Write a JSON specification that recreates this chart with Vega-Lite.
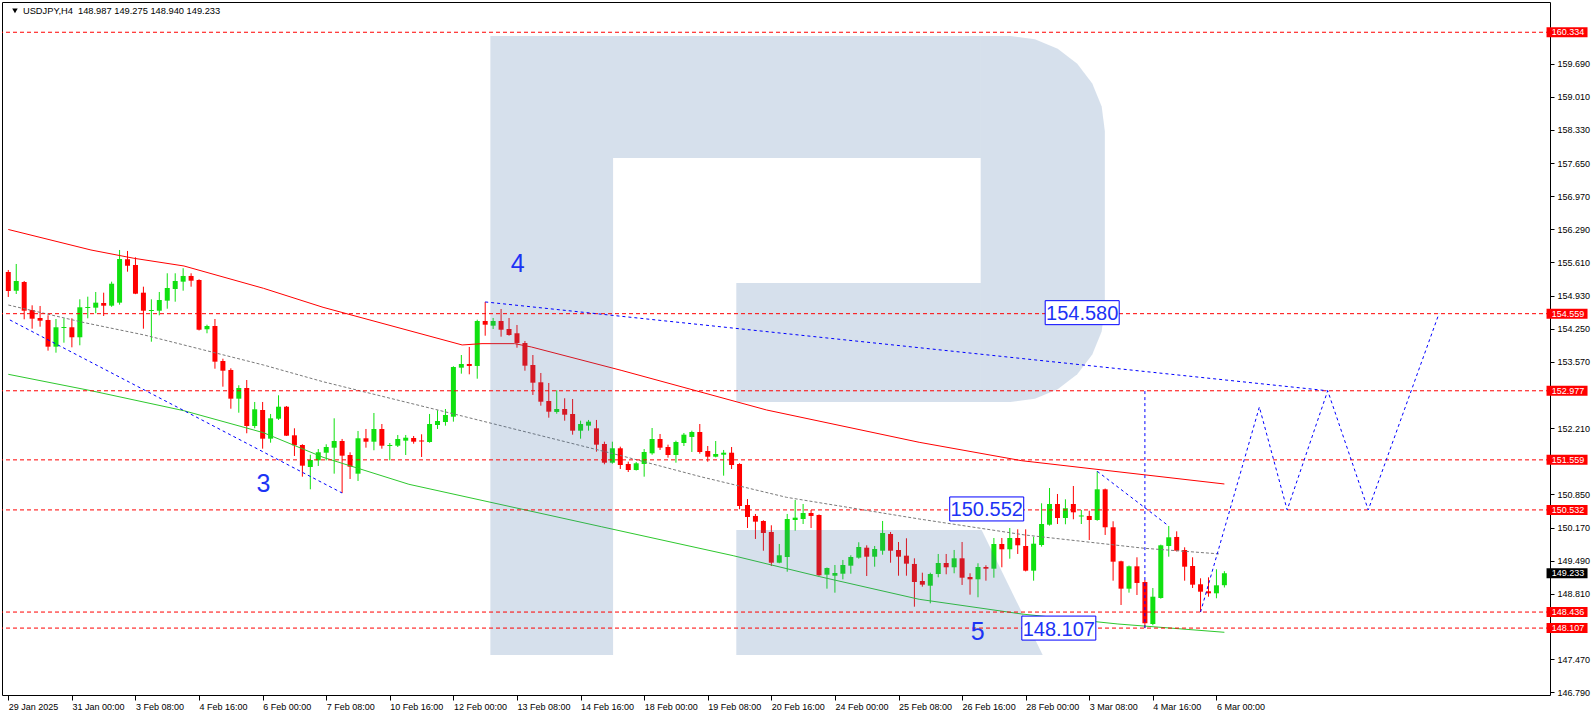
{
"$schema":"https://vega.github.io/schema/vega-lite/v6.json",
"width":1548,"height":693,
"autosize":{"type":"none"},
"padding":{"left":2,"top":2,"right":46,"bottom":21},
"background":"#ffffff",
"config":{"view":{"stroke":"#000000","strokeWidth":1},"axis":{"labelFont":"Liberation Sans","labelFontSize":9,"labelColor":"#000000","tickColor":"#000000","domain":false,"grid":false,"labelOverlap":false,"labelBound":false,"labelFlush":false}},
"datasets":{
"candles":[
{"i":0,"o":155.415,"h":155.456,"l":154.902,"c":155.025},
{"i":1,"o":155.031,"h":155.579,"l":154.963,"c":155.230},
{"i":2,"o":155.209,"h":155.230,"l":154.444,"c":154.620},
{"i":3,"o":154.635,"h":154.731,"l":154.251,"c":154.456},
{"i":4,"o":154.471,"h":154.717,"l":154.292,"c":154.415},
{"i":5,"o":154.430,"h":154.526,"l":153.800,"c":153.882},
{"i":6,"o":153.882,"h":154.450,"l":153.759,"c":154.280},
{"i":7,"o":154.265,"h":154.464,"l":153.964,"c":154.286},
{"i":8,"o":154.280,"h":154.464,"l":153.869,"c":154.075},
{"i":9,"o":154.075,"h":154.854,"l":153.910,"c":154.690},
{"i":10,"o":154.676,"h":154.908,"l":154.464,"c":154.696},
{"i":11,"o":154.682,"h":155.004,"l":154.567,"c":154.785},
{"i":12,"o":154.778,"h":154.990,"l":154.512,"c":154.723},
{"i":13,"o":154.723,"h":155.216,"l":154.700,"c":155.174},
{"i":14,"o":154.785,"h":155.866,"l":154.744,"c":155.681},
{"i":15,"o":155.675,"h":155.846,"l":155.421,"c":155.544},
{"i":16,"o":155.558,"h":155.716,"l":154.960,"c":154.969},
{"i":17,"o":154.990,"h":155.113,"l":154.251,"c":154.620},
{"i":18,"o":154.614,"h":154.854,"l":153.984,"c":154.635},
{"i":19,"o":154.620,"h":155.004,"l":154.526,"c":154.840},
{"i":20,"o":154.826,"h":155.388,"l":154.661,"c":155.086},
{"i":21,"o":155.066,"h":155.388,"l":154.805,"c":155.230},
{"i":22,"o":155.216,"h":155.491,"l":155.031,"c":155.333},
{"i":23,"o":155.333,"h":155.388,"l":155.113,"c":155.236},
{"i":24,"o":155.250,"h":155.265,"l":154.215,"c":154.230},
{"i":25,"o":154.239,"h":154.333,"l":154.157,"c":154.306},
{"i":26,"o":154.306,"h":154.450,"l":153.430,"c":153.574},
{"i":27,"o":153.588,"h":153.635,"l":153.061,"c":153.389},
{"i":28,"o":153.404,"h":153.438,"l":152.609,"c":152.815},
{"i":29,"o":152.815,"h":153.090,"l":152.527,"c":153.034},
{"i":30,"o":153.034,"h":153.198,"l":152.105,"c":152.254},
{"i":31,"o":152.254,"h":152.747,"l":152.207,"c":152.597},
{"i":32,"o":152.583,"h":152.747,"l":151.789,"c":151.994},
{"i":33,"o":151.994,"h":152.501,"l":151.912,"c":152.412},
{"i":34,"o":152.404,"h":152.884,"l":152.378,"c":152.650},
{"i":35,"o":152.650,"h":152.664,"l":152.049,"c":152.055},
{"i":36,"o":152.063,"h":152.207,"l":151.639,"c":151.858},
{"i":37,"o":151.864,"h":151.880,"l":151.214,"c":151.440},
{"i":38,"o":151.413,"h":151.665,"l":150.955,"c":151.557},
{"i":39,"o":151.550,"h":151.782,"l":151.434,"c":151.715},
{"i":40,"o":151.706,"h":151.879,"l":151.550,"c":151.823},
{"i":41,"o":151.809,"h":152.412,"l":151.276,"c":151.946},
{"i":42,"o":151.946,"h":151.988,"l":150.879,"c":151.645},
{"i":43,"o":151.659,"h":151.715,"l":151.167,"c":151.419},
{"i":44,"o":151.276,"h":152.152,"l":151.126,"c":152.002},
{"i":45,"o":152.002,"h":152.193,"l":151.809,"c":151.932},
{"i":46,"o":151.932,"h":152.521,"l":151.756,"c":152.193},
{"i":47,"o":152.193,"h":152.295,"l":151.789,"c":151.850},
{"i":48,"o":151.844,"h":151.905,"l":151.550,"c":151.864},
{"i":49,"o":151.850,"h":152.070,"l":151.823,"c":151.988},
{"i":50,"o":151.953,"h":152.070,"l":151.659,"c":152.014},
{"i":51,"o":152.008,"h":152.049,"l":151.891,"c":151.932},
{"i":52,"o":151.957,"h":152.084,"l":151.618,"c":151.936},
{"i":53,"o":151.926,"h":152.501,"l":151.912,"c":152.295},
{"i":54,"o":152.275,"h":152.577,"l":152.193,"c":152.357},
{"i":55,"o":152.336,"h":152.603,"l":152.261,"c":152.480},
{"i":56,"o":152.445,"h":153.480,"l":152.343,"c":153.465},
{"i":57,"o":153.451,"h":153.711,"l":153.328,"c":153.527},
{"i":58,"o":153.527,"h":153.876,"l":153.315,"c":153.486},
{"i":59,"o":153.486,"h":154.436,"l":153.225,"c":154.409},
{"i":60,"o":154.409,"h":154.800,"l":154.107,"c":154.333},
{"i":61,"o":154.313,"h":154.471,"l":154.245,"c":154.409},
{"i":62,"o":154.409,"h":154.655,"l":154.087,"c":154.230},
{"i":63,"o":154.245,"h":154.471,"l":154.107,"c":154.122},
{"i":64,"o":154.157,"h":154.327,"l":153.861,"c":153.958},
{"i":65,"o":153.958,"h":153.999,"l":153.389,"c":153.492},
{"i":66,"o":153.506,"h":153.711,"l":152.891,"c":153.143},
{"i":67,"o":153.151,"h":153.342,"l":152.671,"c":152.753},
{"i":68,"o":152.767,"h":153.137,"l":152.425,"c":152.548},
{"i":69,"o":152.542,"h":152.987,"l":152.507,"c":152.603},
{"i":70,"o":152.603,"h":152.823,"l":152.363,"c":152.486},
{"i":71,"o":152.501,"h":152.808,"l":152.076,"c":152.158},
{"i":72,"o":152.158,"h":152.363,"l":151.994,"c":152.295},
{"i":73,"o":152.261,"h":152.378,"l":152.158,"c":152.343},
{"i":74,"o":152.207,"h":152.378,"l":151.727,"c":151.871},
{"i":75,"o":151.885,"h":151.932,"l":151.468,"c":151.501},
{"i":76,"o":151.501,"h":151.932,"l":151.481,"c":151.797},
{"i":77,"o":151.797,"h":151.830,"l":151.372,"c":151.454},
{"i":78,"o":151.475,"h":151.522,"l":151.310,"c":151.351},
{"i":79,"o":151.351,"h":151.516,"l":151.340,"c":151.489},
{"i":80,"o":151.475,"h":151.782,"l":151.214,"c":151.721},
{"i":81,"o":151.694,"h":152.213,"l":151.665,"c":151.988},
{"i":82,"o":151.988,"h":152.090,"l":151.762,"c":151.809},
{"i":83,"o":151.823,"h":151.871,"l":151.604,"c":151.659},
{"i":84,"o":151.659,"h":151.953,"l":151.501,"c":151.926},
{"i":85,"o":151.905,"h":152.111,"l":151.844,"c":152.076},
{"i":86,"o":152.029,"h":152.158,"l":151.721,"c":152.131},
{"i":87,"o":152.131,"h":152.295,"l":151.686,"c":151.721},
{"i":88,"o":151.741,"h":151.844,"l":151.522,"c":151.624},
{"i":89,"o":151.624,"h":151.946,"l":151.610,"c":151.680},
{"i":90,"o":151.665,"h":151.762,"l":151.235,"c":151.706},
{"i":91,"o":151.706,"h":151.823,"l":151.372,"c":151.454},
{"i":92,"o":151.475,"h":151.490,"l":150.545,"c":150.613},
{"i":93,"o":150.633,"h":150.756,"l":150.161,"c":150.387},
{"i":94,"o":150.408,"h":150.449,"l":149.936,"c":150.291},
{"i":95,"o":150.305,"h":150.320,"l":149.695,"c":150.059},
{"i":96,"o":150.079,"h":150.217,"l":149.381,"c":149.449},
{"i":97,"o":149.449,"h":149.833,"l":149.437,"c":149.601},
{"i":98,"o":149.566,"h":150.449,"l":149.264,"c":150.346},
{"i":99,"o":150.325,"h":150.736,"l":150.106,"c":150.373},
{"i":100,"o":150.346,"h":150.654,"l":150.243,"c":150.469},
{"i":101,"o":150.469,"h":150.531,"l":150.161,"c":150.408},
{"i":102,"o":150.428,"h":150.440,"l":149.180,"c":149.191},
{"i":103,"o":149.203,"h":149.350,"l":148.916,"c":149.340},
{"i":104,"o":149.182,"h":149.402,"l":148.834,"c":149.238},
{"i":105,"o":149.223,"h":149.505,"l":149.108,"c":149.402},
{"i":106,"o":149.388,"h":149.601,"l":149.223,"c":149.566},
{"i":107,"o":149.552,"h":149.868,"l":149.531,"c":149.771},
{"i":108,"o":149.757,"h":149.806,"l":149.176,"c":149.572},
{"i":109,"o":149.572,"h":149.792,"l":149.367,"c":149.730},
{"i":110,"o":149.695,"h":150.305,"l":149.613,"c":150.059},
{"i":111,"o":150.038,"h":150.079,"l":149.449,"c":149.695},
{"i":112,"o":149.710,"h":149.874,"l":149.182,"c":149.572},
{"i":113,"o":149.593,"h":149.950,"l":149.182,"c":149.429},
{"i":114,"o":149.423,"h":149.539,"l":148.546,"c":149.053},
{"i":115,"o":149.074,"h":149.244,"l":148.957,"c":148.998},
{"i":116,"o":148.977,"h":149.244,"l":148.616,"c":149.217},
{"i":117,"o":149.217,"h":149.628,"l":149.149,"c":149.443},
{"i":118,"o":149.443,"h":149.628,"l":149.211,"c":149.355},
{"i":119,"o":149.355,"h":149.710,"l":149.232,"c":149.539},
{"i":120,"o":149.539,"h":149.874,"l":148.992,"c":149.141},
{"i":121,"o":149.156,"h":149.232,"l":148.793,"c":149.108},
{"i":122,"o":149.108,"h":149.437,"l":148.739,"c":149.361},
{"i":123,"o":149.361,"h":149.396,"l":149.080,"c":149.326},
{"i":124,"o":149.326,"h":149.956,"l":149.141,"c":149.833},
{"i":125,"o":149.833,"h":149.956,"l":149.355,"c":149.724},
{"i":126,"o":149.724,"h":150.161,"l":149.531,"c":149.956},
{"i":127,"o":149.956,"h":150.134,"l":149.628,"c":149.806},
{"i":128,"o":149.792,"h":150.134,"l":149.270,"c":149.285},
{"i":129,"o":149.285,"h":149.983,"l":149.080,"c":149.839},
{"i":130,"o":149.812,"h":150.668,"l":149.778,"c":150.243},
{"i":131,"o":150.229,"h":150.982,"l":150.210,"c":150.654},
{"i":132,"o":150.654,"h":150.859,"l":150.243,"c":150.366},
{"i":133,"o":150.366,"h":150.750,"l":150.237,"c":150.566},
{"i":134,"o":150.654,"h":151.023,"l":150.340,"c":150.483},
{"i":135,"o":150.397,"h":150.531,"l":150.243,"c":150.418},
{"i":136,"o":150.408,"h":150.516,"l":149.915,"c":150.325},
{"i":137,"o":150.325,"h":151.325,"l":150.310,"c":150.955},
{"i":138,"o":150.955,"h":150.970,"l":150.018,"c":150.176},
{"i":139,"o":150.176,"h":150.299,"l":149.080,"c":149.470},
{"i":140,"o":149.478,"h":149.490,"l":148.581,"c":148.916},
{"i":141,"o":148.916,"h":149.390,"l":148.834,"c":149.375},
{"i":142,"o":149.375,"h":149.560,"l":148.786,"c":149.033},
{"i":143,"o":149.053,"h":149.094,"l":148.107,"c":148.206},
{"i":144,"o":148.191,"h":148.930,"l":148.165,"c":148.751},
{"i":145,"o":148.725,"h":149.820,"l":148.710,"c":149.806},
{"i":146,"o":149.792,"h":150.202,"l":149.572,"c":149.970},
{"i":147,"o":149.977,"h":150.093,"l":149.680,"c":149.695},
{"i":148,"o":149.710,"h":149.765,"l":149.080,"c":149.367},
{"i":149,"o":149.381,"h":149.560,"l":148.930,"c":148.998},
{"i":150,"o":149.006,"h":149.129,"l":148.436,"c":148.854},
{"i":151,"o":148.862,"h":149.149,"l":148.751,"c":148.821},
{"i":152,"o":148.821,"h":149.314,"l":148.719,"c":148.985},
{"i":153,"o":148.987,"h":149.275,"l":148.940,"c":149.233}
],
"maRed":[
{"i":0,"p":156.287},{"i":10.4,"p":155.866},{"i":15.8,"p":155.696},{"i":22.1,"p":155.538},{"i":32.1,"p":155.080},{"i":39.6,"p":154.690},{"i":57.1,"p":153.917},{"i":59.6,"p":153.944},{"i":63.7,"p":153.944},{"i":65.8,"p":153.876},{"i":77.1,"p":153.397},{"i":95.4,"p":152.583},{"i":114.6,"p":151.920},{"i":127.5,"p":151.542},{"i":153,"p":151.064}
],
"maGray":[
{"i":0,"p":154.737},{"i":9.6,"p":154.374},{"i":17.1,"p":154.122},{"i":24.6,"p":153.814},{"i":32.1,"p":153.506},{"i":39.6,"p":153.163},{"i":57.1,"p":152.459},{"i":77.1,"p":151.645},{"i":87.1,"p":151.214},{"i":97.9,"p":150.791},{"i":114.6,"p":150.346},{"i":127.9,"p":150.018},{"i":142.9,"p":149.745},{"i":152.5,"p":149.628}
],
"maGreen":[
{"i":0,"p":153.315},{"i":10.4,"p":152.979},{"i":22.1,"p":152.568},{"i":32.1,"p":152.117},{"i":39.6,"p":151.612},{"i":50.4,"p":151.058},{"i":74.6,"p":150.188},{"i":91.2,"p":149.593},{"i":102.1,"p":149.162},{"i":114.6,"p":148.698},{"i":127.5,"p":148.396},{"i":139.6,"p":148.191},{"i":153,"p":148.021}
],
"wmRects":[
{"part":"stem","x1":60.65,"x2":76.09,"y1":160.258,"y2":147.555},
{"part":"top","x1":76.09,"x2":122.34,"y1":160.258,"y2":157.754},
{"part":"bottom","x1":91.59,"x2":122.34,"y1":155.189,"y2":152.747}
],
"wmAreas":[
{"part":"R","i":122.34,"a":160.258,"b":152.747},
{"part":"R","i":126.09,"a":160.258,"b":152.747},
{"part":"R","i":129.16,"a":160.192,"b":152.813},
{"part":"R","i":132.03,"a":159.997,"b":153.008},
{"part":"R","i":134.49,"a":159.687,"b":153.317},
{"part":"R","i":136.38,"a":159.283,"b":153.722},
{"part":"R","i":137.56,"a":158.813,"b":154.192},
{"part":"R","i":137.96,"a":158.308,"b":154.696},
{"part":"L","i":91.59,"a":150.120,"b":147.555},
{"part":"L","i":122.46,"a":150.120,"b":147.555},
{"part":"L","i":130.14,"a":147.555,"b":147.555}
],
"levels":[
{"v":160.334,"k":"level"},{"v":154.559,"k":"level"},{"v":152.977,"k":"level"},{"v":151.559,"k":"level"},{"v":150.532,"k":"level"},{"v":148.436,"k":"level"},{"v":148.107,"k":"level"},{"v":149.233,"k":"price"}
],
"waves":[
{"id":"w1","k":0,"i":0.2,"p":154.43},{"id":"w1","k":1,"i":42,"p":150.879},
{"id":"w2","k":0,"i":60,"p":154.80},{"id":"w2","k":1,"i":166.0,"p":152.977},
{"id":"w3","k":0,"i":137,"p":151.325},{"id":"w3","k":1,"i":146,"p":150.202},
{"id":"w4","k":0,"i":150,"p":148.436},{"id":"w4","k":1,"i":157.4,"p":152.644},{"id":"w4","k":2,"i":160.9,"p":150.532},{"id":"w4","k":3,"i":166.0,"p":152.977},{"id":"w4","k":4,"i":171.1,"p":150.532},{"id":"w4","k":5,"i":180.0,"p":154.559},
{"id":"w5","k":0,"i":143,"p":148.107},{"id":"w5","k":1,"i":143,"p":152.977}
],
"waveNums":[
{"t":"3","i":32.09,"p":151.112},{"t":"4","i":64.09,"p":155.610},{"t":"5","i":121.96,"p":148.058}
],
"tags":[
{"t":"154.580","i":135.11,"p":154.580},{"t":"150.552","i":123.1,"p":150.552},{"t":"148.107","i":132.17,"p":148.107}
]
},
"layer":[
{"data":{"name":"candles"},"mark":{"type":"rule","strokeWidth":1},
"encoding":{
"x":{"field":"i","type":"quantitative","scale":{"domain":[-0.1625,193.3375],"nice":false,"zero":false},
"axis":{"orient":"bottom","title":null,"values":[0,8,16,24,32,40,48,56,64,72,80,88,96,104,112,120,128,136,144,152],
"labelExpr":"['29 Jan 2025','31 Jan 00:00','3 Feb 08:00','4 Feb 16:00','6 Feb 00:00','7 Feb 08:00','10 Feb 16:00','12 Feb 00:00','13 Feb 08:00','14 Feb 16:00','18 Feb 00:00','19 Feb 08:00','20 Feb 16:00','24 Feb 00:00','25 Feb 08:00','26 Feb 16:00','28 Feb 00:00','3 Mar 08:00','4 Mar 16:00','6 Mar 00:00'][round(datum.value/8)]",
"labelAlign":"left","labelBaseline":"top","tickSize":5,"labelPadding":2,"labelOverlap":false,"labelBound":false,"labelFlush":false}},
"y":{"field":"l","type":"quantitative","scale":{"domain":[146.734,160.955],"nice":false,"zero":false},
"axis":{"orient":"right","title":null,"values":[146.79,147.47,148.81,149.49,150.17,150.85,152.21,153.57,154.25,154.93,155.61,156.29,156.97,157.65,158.33,159.01,159.69],
"format":".3f","tickSize":4,"labelPadding":3,"labelOverlap":false,"labelBound":false,"labelFlush":false}},
"y2":{"field":"h"},
"color":{"condition":{"test":"datum.c >= datum.o","value":"#10e010"},"value":"#ff0000"}}},
{"data":{"name":"candles"},"mark":{"type":"bar","width":5},
"encoding":{
"x":{"field":"i","type":"quantitative"},
"y":{"field":"o","type":"quantitative"},
"y2":{"field":"c"},
"color":{"condition":{"test":"datum.c >= datum.o","value":"#10e010"},"value":"#ff0000"}}},
{"data":{"name":"maRed"},"mark":{"type":"line","color":"#ff0000","strokeWidth":1},
"encoding":{"x":{"field":"i","type":"quantitative"},"y":{"field":"p","type":"quantitative"}}},
{"data":{"name":"maGray"},"mark":{"type":"line","color":"#7a7a7a","strokeWidth":1,"strokeDash":[3,2]},
"encoding":{"x":{"field":"i","type":"quantitative"},"y":{"field":"p","type":"quantitative"}}},
{"data":{"name":"maGreen"},"mark":{"type":"line","color":"#2ec82e","strokeWidth":1},
"encoding":{"x":{"field":"i","type":"quantitative"},"y":{"field":"p","type":"quantitative"}}},
{"data":{"name":"wmRects"},"mark":{"type":"rect","fill":"#416fa7","opacity":0.216},
"encoding":{"x":{"field":"x1","type":"quantitative"},"x2":{"field":"x2"},"y":{"field":"y1","type":"quantitative"},"y2":{"field":"y2"}}},
{"data":{"name":"wmAreas"},"mark":{"type":"area","fill":"#416fa7","opacity":0.216,"interpolate":"linear"},
"encoding":{"x":{"field":"i","type":"quantitative"},"y":{"field":"a","type":"quantitative"},"y2":{"field":"b"},"detail":{"field":"part"}}},
{"data":{"name":"levels"},"transform":[{"filter":"datum.k == 'level'"}],"mark":{"type":"rule","color":"#ff0000","strokeWidth":1,"strokeDash":[4,3]},
"encoding":{"y":{"field":"v","type":"quantitative"}}},
{"data":{"name":"waves"},"mark":{"type":"line","color":"#0000ff","strokeWidth":1,"strokeDash":[3,3]},
"encoding":{"x":{"field":"i","type":"quantitative"},"y":{"field":"p","type":"quantitative"},"detail":{"field":"id"},"order":{"field":"k","type":"quantitative"}}},
{"data":{"name":"waveNums"},"mark":{"type":"text","font":"Liberation Sans","fontSize":25,"color":"#1c33f5","align":"center","baseline":"middle","dy":2},
"encoding":{"x":{"field":"i","type":"quantitative"},"y":{"field":"p","type":"quantitative"},"text":{"field":"t"}}},
{"data":{"name":"tags"},"mark":{"type":"point","shape":"M-1,-0.3243H1V0.3243H-1Z","size":5476,"filled":true,"fill":"#ffffff","stroke":"#0000ff","strokeWidth":1,"opacity":1},
"encoding":{"x":{"field":"i","type":"quantitative"},"y":{"field":"p","type":"quantitative"}}},
{"data":{"name":"tags"},"mark":{"type":"text","font":"Liberation Sans","fontSize":20,"color":"#1c33f5","align":"center","baseline":"middle","dy":1.5},
"encoding":{"x":{"field":"i","type":"quantitative"},"y":{"field":"p","type":"quantitative"},"text":{"field":"t"}}},
{"data":{"name":"levels"},"mark":{"type":"point","shape":"M-1,-0.2439H1V0.2439H-1Z","size":1681,"filled":true,"opacity":1,"strokeWidth":0},
"encoding":{"x":{"datum":196.11},"y":{"field":"v","type":"quantitative"},
"color":{"condition":{"test":"datum.k == 'price'","value":"#000000"},"value":"#ff0000"}}},
{"data":{"name":"levels"},"mark":{"type":"text","font":"Liberation Sans","fontSize":9,"color":"#ffffff","align":"left","baseline":"middle"},
"encoding":{"x":{"datum":194.18},"y":{"field":"v","type":"quantitative"},"text":{"field":"v","type":"quantitative","format":".3f"}}},
{"data":{"values":[{}]},"mark":{"type":"point","shape":"triangle-down","size":30,"filled":true,"color":"#000000","opacity":1},
"encoding":{"x":{"datum":0.84},"y":{"datum":160.771}}},
{"data":{"values":[{}]},"mark":{"type":"text","font":"Liberation Sans","fontSize":9.3,"color":"#000000","align":"left","baseline":"alphabetic"},
"encoding":{"x":{"datum":1.84},"y":{"datum":160.709},"text":{"value":"USDJPY,H4\u00a0 148.987 149.275 148.940 149.233"}}}
]
}
